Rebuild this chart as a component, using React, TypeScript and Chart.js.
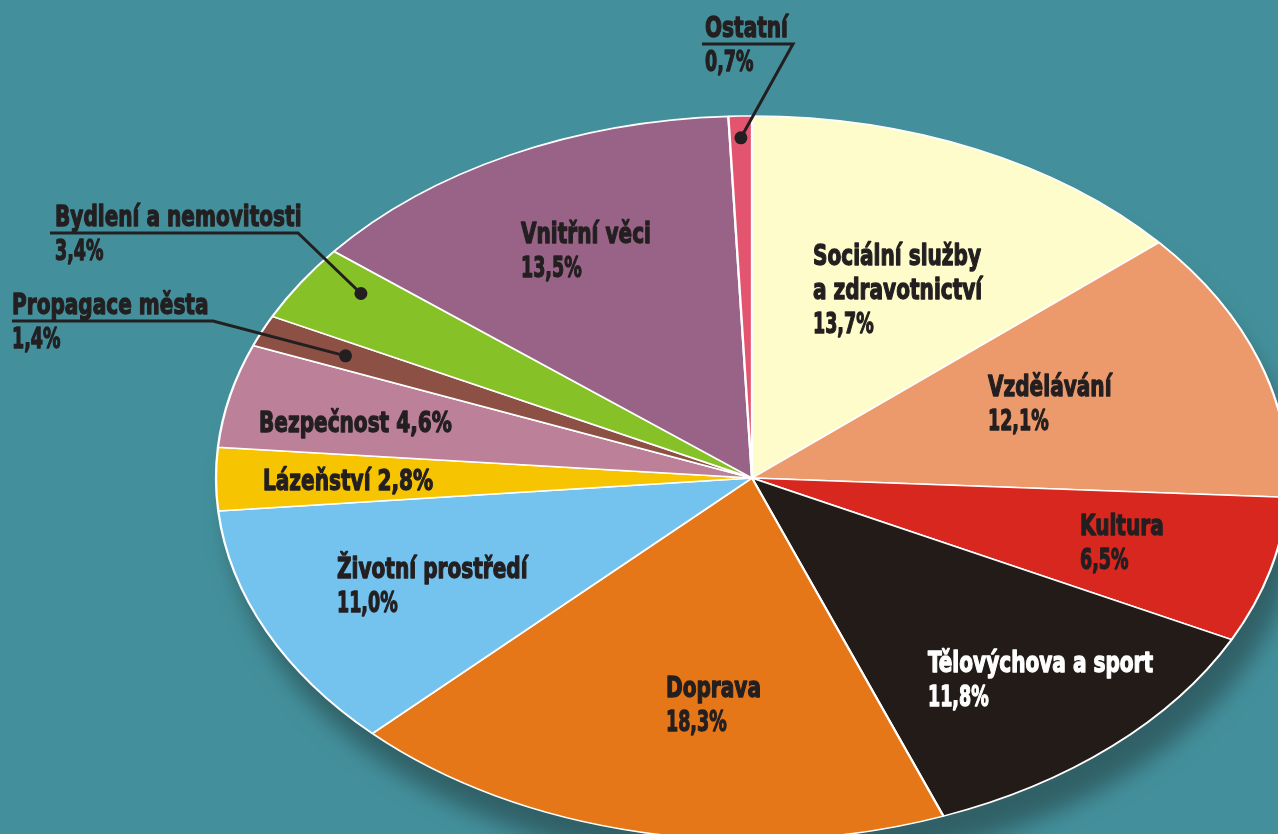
import React, { useEffect, useRef } from "react";
import { Chart, registerables } from "chart.js";

Chart.register(...registerables);

// ---- data ----
const categories = [
  "Sociální služby a zdravotnictví",
  "Vzdělávání",
  "Kultura",
  "Tělovýchova a sport",
  "Doprava",
  "Životní prostředí",
  "Lázeňství",
  "Bezpečnost",
  "Propagace města",
  "Bydlení a nemovitosti",
  "Vnitřní věci",
  "Ostatní",
];
const shares = [13.7, 12.1, 6.5, 11.8, 18.3, 11.0, 2.8, 4.6, 1.4, 3.4, 13.5, 0.7];
const sliceColors = [
  "#FFFCCB",
  "#EC996B",
  "#D7271E",
  "#221B18",
  "#E67718",
  "#74C3EE",
  "#F6C401",
  "#BD8099",
  "#8C5144",
  "#86C227",
  "#996388",
  "#E3546F",
];

// ---- label layout (screen positions of texts) ----
type LabelLayout = {
  x: number;
  y: number;
  lines: "two" | "one" | "wrap";
  wrap?: string[];
  color?: string;
  leader?: { ux0: number; ux1: number; uy: number; frac: number; dAng?: number };
};
const labelLayout: LabelLayout[] = [
  { x: 813, y: 265, lines: "wrap", wrap: ["Sociální služby", "a zdravotnictví"] },
  { x: 988, y: 396, lines: "two" },
  { x: 1080, y: 535, lines: "two" },
  { x: 928, y: 672, lines: "two", color: "#FFFFFF" },
  { x: 666, y: 697, lines: "two" },
  { x: 337, y: 578, lines: "two" },
  { x: 263, y: 490, lines: "one" },
  { x: 259, y: 432, lines: "one" },
  { x: 12, y: 314, lines: "two", leader: { ux0: 12, ux1: 213, uy: 321, frac: 0.83, dAng: 0 } },
  { x: 55, y: 226, lines: "two", leader: { ux0: 50, ux1: 298, uy: 233, frac: 0.89, dAng: 0.04 } },
  { x: 521, y: 243, lines: "two" },
  { x: 705, y: 37, lines: "two", leader: { ux0: 702, ux1: 793, uy: 44, frac: 0.94 } },
];

const BG = "#43909C";
const CX = 752;
const CY = 478;
const RX = 536;
const RY = 362;
const LINE_H = 34;
const SQUEEZE = 0.77;
const SQUEEZE_NUM = 0.67;
const FONT = 'bold 29px "Liberation Sans Narrow", "Arial Narrow", "DejaVu Sans Condensed", sans-serif';
const INK = "#231F20";

const fmt = (v: number) => v.toFixed(1).replace(".", ",") + "%";

const ellipsePlugin = {
  id: "ellipsePie",
  beforeDraw(chart: any) {
    const ctx = chart.ctx;
    ctx.save();
    ctx.fillStyle = BG;
    ctx.fillRect(0, 0, chart.width, chart.height);
    ctx.restore();
  },
  beforeDatasetsDraw(chart: any) {
    const ctx = chart.ctx;
    const arc = chart.getDatasetMeta(0).data[0];
    const { x, y, outerRadius } = arc.getProps(["x", "y", "outerRadius"], true);
    // drop shadow
    ctx.save();
    ctx.shadowColor = "rgba(45,85,90,0.8)";
    ctx.shadowBlur = 22;
    ctx.shadowOffsetX = 12;
    ctx.shadowOffsetY = 30;
    ctx.fillStyle = "#3E7F86";
    ctx.beginPath();
    ctx.ellipse(CX, CY, RX, RY, 0, 0, Math.PI * 2);
    ctx.fill();
    ctx.restore();
    // squash circle into ellipse
    ctx.save();
    ctx.translate(CX, CY);
    ctx.scale(RX / outerRadius, RY / outerRadius);
    ctx.translate(-x, -y);
  },
  afterDatasetsDraw(chart: any) {
    const ctx = chart.ctx;
    ctx.restore();
    const meta = chart.getDatasetMeta(0);
    ctx.save();
    ctx.font = FONT;
    ctx.textAlign = "left";
    ctx.textBaseline = "alphabetic";
    labelLayout.forEach((lay, i) => {
      const name = categories[i];
      const pct = fmt(shares[i]);
      let lines: string[];
      if (lay.lines === "one") lines = [name + " " + pct];
      else if (lay.lines === "wrap") lines = [...(lay.wrap || [name]), pct];
      else lines = [name, pct];
      const col = lay.color || INK;
      lines.forEach((t, k) => {
        ctx.save();
        ctx.translate(lay.x, lay.y + k * LINE_H);
        ctx.scale(t === pct ? SQUEEZE_NUM : SQUEEZE, 1);
        ctx.fillStyle = col;
        ctx.strokeStyle = col;
        ctx.lineWidth = 1.3;
        ctx.lineJoin = "round";
        ctx.strokeText(t, 0, 0);
        ctx.fillText(t, 0, 0);
        ctx.restore();
      });
      if (lay.leader) {
        const el = meta.data[i];
        const p = el.getProps(["x", "y", "startAngle", "endAngle", "outerRadius"], true);
        const mid = (p.startAngle + p.endAngle) / 2 + (lay.leader.dAng || 0);
        const dx = Math.cos(mid) * p.outerRadius * lay.leader.frac;
        const dy = Math.sin(mid) * p.outerRadius * lay.leader.frac;
        const sx = CX + (dx * RX) / p.outerRadius;
        const sy = CY + (dy * RY) / p.outerRadius;
        ctx.strokeStyle = INK;
        ctx.lineWidth = 3;
        ctx.lineCap = "butt";
        ctx.lineJoin = "miter";
        ctx.beginPath();
        ctx.moveTo(lay.leader.ux0, lay.leader.uy);
        ctx.lineTo(lay.leader.ux1, lay.leader.uy);
        ctx.lineTo(sx, sy);
        ctx.stroke();
        ctx.fillStyle = INK;
        ctx.beginPath();
        ctx.arc(sx, sy, 6.5, 0, Math.PI * 2);
        ctx.fill();
      }
    });
    ctx.restore();
  },
};

export default function App() {
  const ref = useRef<HTMLCanvasElement | null>(null);
  useEffect(() => {
    if (!ref.current) return;
    const chart = new Chart(ref.current, {
      type: "pie",
      data: {
        labels: categories,
        datasets: [
          {
            data: shares,
            backgroundColor: sliceColors,
            borderColor: "#FFFFFF",
            borderWidth: 1.8,
            clip: false as any,
          },
        ],
      },
      options: {
        responsive: false,
        animation: false,
        devicePixelRatio: 1,
        layout: { padding: 0 },
        plugins: {
          legend: { display: false },
          tooltip: { enabled: false },
        },
      },
      plugins: [ellipsePlugin],
    });
    return () => chart.destroy();
  }, []);
  return (
    <div
      style={{
        position: "fixed",
        left: 0,
        top: 0,
        width: 1278,
        height: 834,
        background: BG,
        overflow: "hidden",
      }}
    >
      <canvas ref={ref} width={1278} height={834} style={{ display: "block" }} />
    </div>
  );
}
